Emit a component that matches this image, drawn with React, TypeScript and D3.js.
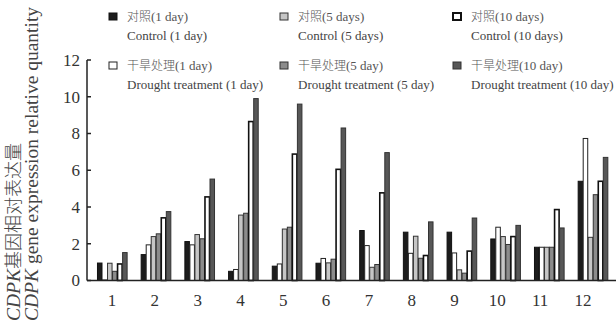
import React from "react";
import * as d3 from "d3";

const categories = ["1", "2", "3", "4", "5", "6", "7", "8", "9", "10", "11", "12"];
const seriesKeys = ["c1", "d1", "c5", "d5", "c10", "d10"];
const control1 = [0.95, 1.41, 2.12, 0.5, 0.78, 0.94, 2.72, 2.63, 2.63, 2.26, 1.81, 5.4];
const drought1 = [0.03, 1.94, 1.94, 0.6, 0.9, 1.2, 1.9, 1.48, 1.5, 2.9, 1.81, 7.73];
const control5 = [0.94, 2.39, 2.5, 3.56, 2.8, 0.96, 0.72, 2.41, 0.58, 2.39, 1.81, 2.35];
const drought5 = [0.5, 2.54, 2.27, 3.66, 2.9, 1.16, 0.87, 1.21, 0.4, 1.96, 1.81, 4.67];
const control10 = [0.9, 3.41, 4.55, 8.65, 6.88, 6.05, 4.77, 1.36, 1.6, 2.39, 3.86, 5.4];
const drought10 = [1.52, 3.75, 5.52, 9.9, 9.6, 8.3, 6.96, 3.19, 3.4, 3.0, 2.86, 6.7];
const yTicks = [0, 2, 4, 6, 8, 10, 12];

const legendZh = ["对照(1 day)", "对照(5 days)", "对照(10 days)", "干旱处理(1 day)", "干旱处理(5 day)", "干旱处理(10 day)"];
const legendEn = ["Control (1 day)", "Control (5 days)", "Control (10 days)", "Drought treatment (1 day)", "Drought treatment (5 day)", "Drought treatment (10 day)"];
const legendKeys = ["c1", "c5", "c10", "d1", "d5", "d10"];

const styles: Record<string, { fill: string; stroke: string; sw: number }> = {
  c1: { fill: "#1c1c1c", stroke: "#111", sw: 1 },
  d1: { fill: "#ffffff", stroke: "#222", sw: 1 },
  c5: { fill: "#c6c6c6", stroke: "#333", sw: 1 },
  d5: { fill: "#8c8c8c", stroke: "#333", sw: 1 },
  c10: { fill: "#ffffff", stroke: "#111", sw: 1.6 },
  d10: { fill: "#575757", stroke: "#333", sw: 1 },
};

const seriesData: Record<string, number[]> = {
  c1: control1, d1: drought1, c5: control5, d5: drought5, c10: control10, d10: drought10,
};

export default function App() {
  const W = 616, H = 322;
  const y = d3.scaleLinear().domain([0, 12]).range([280.5, 60]);
  const x = d3.scaleBand<string>().domain(categories).range([90.2, 614.6]).paddingInner(0.31).paddingOuter(0.155);
  const xs = d3.scaleBand<string>().domain(seriesKeys).range([0, x.bandwidth()]).padding(0);
  const xl = d3.scalePoint<string>().domain(categories).range([112, 583]);
  const serif = "'Liberation Serif', 'DejaVu Serif', serif";
  const cjk = "'Noto Sans CJK SC', sans-serif";
  const axisX = 87;

  const legendX = [109, 280, 453];
  const legendY = [17, 66];

  return (
    <svg width={W} height={H} style={{ position: "absolute", left: 0, top: 0, background: "#fff" }}>
      {/* y axis title */}
      <g fill="#444" fontSize={19.5}>
        <text transform={`translate(20,321) rotate(-90)`}>
          <tspan fontFamily={serif} fontStyle="italic">CDPK</tspan>
          <tspan fontFamily={cjk} fontSize={18} fontWeight={300}>基因相对表达量</tspan>
        </text>
        <text transform={`translate(38,321) rotate(-90)`} fontFamily={serif}>
          <tspan fontStyle="italic">CDPK</tspan>
          <tspan> gene expression relative quantity</tspan>
        </text>
      </g>
      {/* bars */}
      {categories.map((c, i) => (
        <g key={c} transform={`translate(${x(c)},0)`}>
          {seriesKeys.map((k) => {
            const v = seriesData[k][i];
            const s = styles[k];
            return (
              <rect
                key={k}
                x={(xs(k) as number) + 0.5}
                y={y(v)}
                width={xs.bandwidth() - 0.5}
                height={Math.max(0, y(0) - y(v))}
                fill={s.fill}
                stroke={s.stroke}
                strokeWidth={s.sw}
              />
            );
          })}
        </g>
      ))}
      {/* axes */}
      <line x1={axisX} x2={axisX} y1={y(12)} y2={y(0)} stroke="#222" strokeWidth={1.5} />
      <line x1={axisX} x2={W} y1={y(0)} y2={y(0)} stroke="#222" strokeWidth={1.5} />
      {yTicks.map((t) => (
        <g key={t}>
          <line x1={axisX} x2={axisX + 4} y1={y(t)} y2={y(t)} stroke="#222" strokeWidth={1.5} />
          <text x={80} y={y(t)} dy="0.35em" textAnchor="end" fontFamily={serif} fontSize={17} fill="#333">
            {t}
          </text>
        </g>
      ))}
      {categories.map((c) => (
        <text key={c} x={xl(c)} y={300} dy="0.35em" textAnchor="middle" fontFamily={serif} fontSize={17} fill="#333">
          {c}
        </text>
      ))}
      {/* legend */}
      {legendKeys.map((k, i) => {
        const col = i % 3, row = Math.floor(i / 3);
        const lx = legendX[col], ly = legendY[row];
        const s = styles[k];
        return (
          <g key={k}>
            <rect x={lx} y={ly - 4} width={8} height={7} fill={s.fill} stroke={s.stroke} strokeWidth={k === "c10" ? 2 : 1} />
            <text x={lx + 18} y={ly} dy="0.35em" fontSize={12} fill="#555">
              {legendZh[i].split("(").map((part, j) =>
                j === 0 ? (
                  <tspan key={j} fontFamily={cjk} fontWeight={300}>{part}</tspan>
                ) : (
                  <tspan key={j} fontFamily={serif} fontSize={13}>{"(" + part}</tspan>
                )
              )}
            </text>
            <text x={lx + 18} y={ly + 18} dy="0.35em" fontSize={13} fontFamily={serif} fill="#444">
              {legendEn[i]}
            </text>
          </g>
        );
      })}
    </svg>
  );
}
